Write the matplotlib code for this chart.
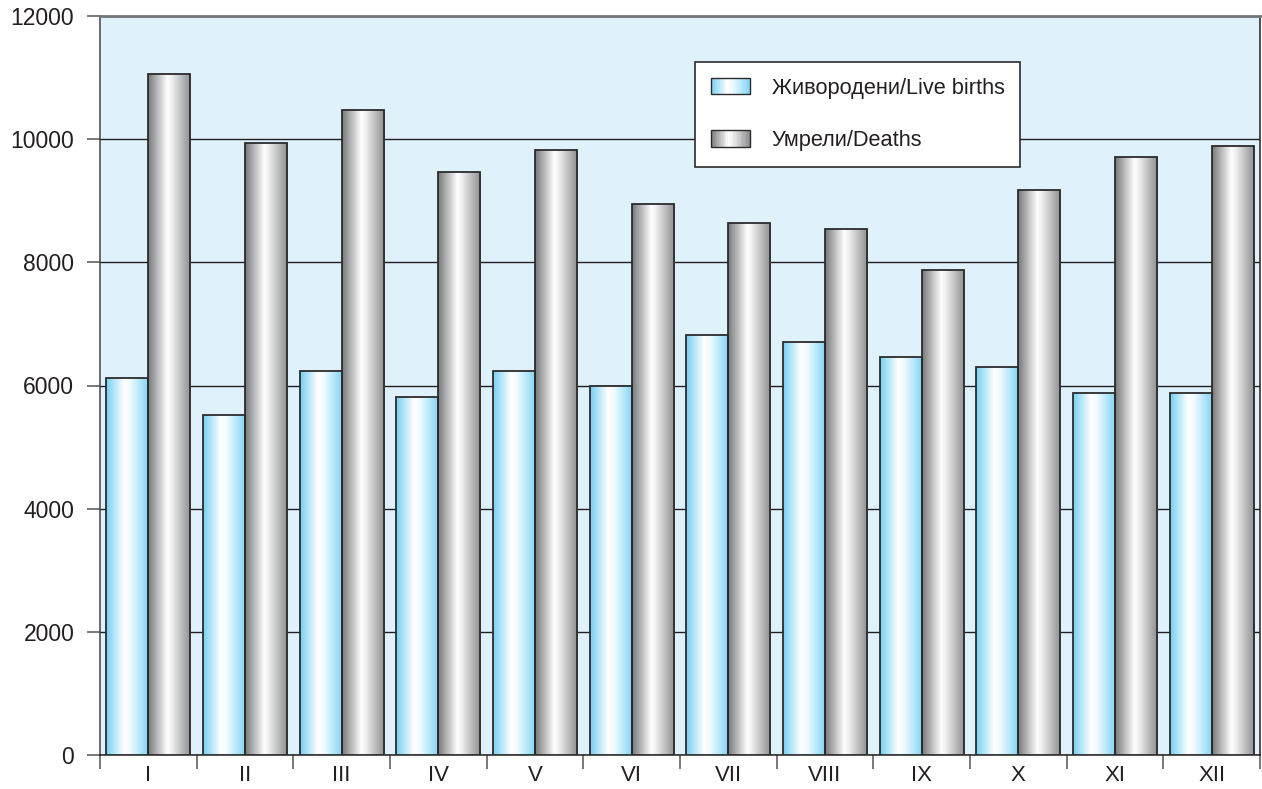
import numpy as np
import matplotlib.pyplot as plt
from matplotlib.colors import LinearSegmentedColormap
from matplotlib.legend_handler import HandlerBase
from matplotlib.patches import Rectangle

plt.rcParams['font.family'] = ['Liberation Sans', 'DejaVu Sans']

# data
months = ["I", "II", "III", "IV", "V", "VI", "VII", "VIII", "IX", "X", "XI", "XII"]
live_births = [6115, 5525, 6235, 5815, 6235, 5995, 6825, 6705, 6465, 6295, 5885, 5885]
deaths = [11060, 9945, 10470, 9470, 9820, 8940, 8645, 8535, 7880, 9170, 9705, 9885]
series_names = ["Живородени/Live births", "Умрели/Deaths"]

# gradient colours (left edge, highlight, right edge)
blue_grad = LinearSegmentedColormap.from_list(
    "blue_grad", [(0, "#74cff4"), (0.42, "#ffffff"), (0.55, "#f2fbff"), (1, "#80d4f6")])
grey_grad = LinearSegmentedColormap.from_list(
    "grey_grad", [(0, "#76777a"), (0.45, "#ffffff"), (0.55, "#f0f0f0"), (1, "#8c8d90")])

fig = plt.figure(figsize=(12.62, 7.89), dpi=100)
ax = fig.add_axes([100 / 1262, 34 / 789, 1160 / 1262, 739 / 789])
ax.set_facecolor("#dff1fb")

x = np.arange(len(months))
w = 0.435
grad = np.linspace(0, 1, 256).reshape(1, -1)


def gradient_bars(xs, heights, cmap):
    bars = ax.bar(xs, heights, w, facecolor="none", edgecolor="#2b2b2b",
                  linewidth=1.3, zorder=4)
    for b in bars:
        x0, y0 = b.get_x(), b.get_y()
        im = ax.imshow(grad, cmap=cmap, aspect="auto", zorder=3,
                       extent=[x0, x0 + b.get_width(), y0, y0 + b.get_height()])
        im.set_clip_path(b)
    return bars


b1 = gradient_bars(x - w / 2, live_births, blue_grad)
b2 = gradient_bars(x + w / 2, deaths, grey_grad)


class GradientHandler(HandlerBase):
    def __init__(self, cmap):
        super().__init__()
        self.cmap = cmap

    def create_artists(self, legend, orig_handle, xdescent, ydescent,
                       width, height, fontsize, trans):
        n = 30
        arts = []
        for i in range(n):
            arts.append(Rectangle((-xdescent + width * i / n, -ydescent), width / n + 0.3, height,
                                  facecolor=self.cmap((i + 0.5) / n), edgecolor="none",
                                  transform=trans))
        arts.append(Rectangle((-xdescent, -ydescent), width, height, facecolor="none",
                              edgecolor="#2b2b2b", linewidth=1.0, transform=trans))
        return arts


leg = ax.legend([b1, b2], series_names,
                handler_map={b1: GradientHandler(blue_grad), b2: GradientHandler(grey_grad)},
                loc="upper left", bbox_to_anchor=(0.513, 0.938), fontsize=15.7,
                frameon=True, fancybox=False, edgecolor="#2b2b2b", framealpha=1,
                borderpad=0.72, labelspacing=1.45, handlelength=1.8, handleheight=0.8,
                handletextpad=1.0, borderaxespad=0)
leg.get_frame().set_linewidth(1.2)
leg.set_zorder(6)
for t in leg.get_texts():
    t.set_color("#231f20")

ax.set_xlim(-0.5, len(months) - 0.5)
ax.set_ylim(0, 12000)
ax.set_yticks(np.arange(0, 12001, 2000))
ax.yaxis.grid(True, color="#231f20", linewidth=1.0, zorder=1)
ax.set_axisbelow(True)
ax.set_xticks(x)
ax.set_xticklabels(months)
ax.set_xticks(np.arange(-0.5, len(months), 1), minor=True)
ax.tick_params(axis="x", which="major", length=0, pad=7, labelsize=16, labelcolor="#231f20")
ax.tick_params(axis="x", which="minor", length=10, width=1.1, color="#555555", direction="out")
ax.tick_params(axis="y", length=9.5, width=1.1, color="#555555", pad=9,
               labelsize=16.5, labelcolor="#231f20")

ax.spines["top"].set_color("#777777")
ax.spines["top"].set_linewidth(2)
ax.spines["right"].set_color("#231f20")
ax.spines["left"].set_color("#444444")
ax.spines["bottom"].set_color("#231f20")
for s in ["left", "bottom", "right"]:
    ax.spines[s].set_linewidth(1.1)

fig.savefig("out.png", dpi=100)
